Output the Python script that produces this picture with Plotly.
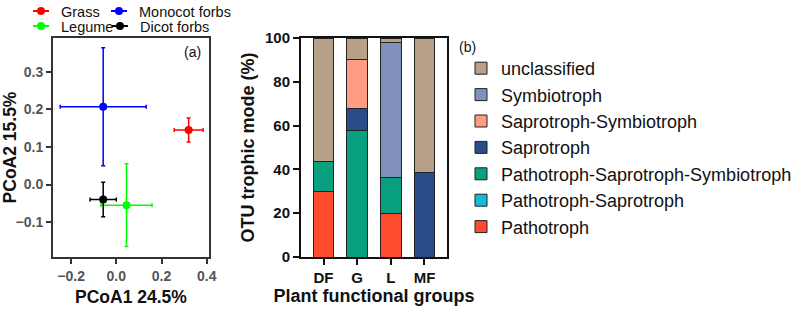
import plotly.graph_objects as go

W, H = 799, 312

# ---- Panel (a) data: PCoA centroids with error bars ----
groups = ["Grass", "Monocot forbs", "Legume", "Dicot forbs"]
group_colors = ["#ff0000", "#0000ff", "#00ff00", "#000000"]
pcoa1 = [0.32, -0.058, 0.045, -0.058]
pcoa2 = [0.145, 0.207, -0.055, -0.04]
pcoa1_err = [0.064, 0.19, 0.113, 0.058]
pcoa2_err = [0.032, 0.157, 0.11, 0.046]

# ---- Panel (b) data: stacked trophic modes ----
categories = ["DF", "G", "L", "MF"]
modes = ["Pathotroph", "Pathotroph-Saprotroph", "Pathotroph-Saprotroph-Symbiotroph",
         "Saprotroph", "Saprotroph-Symbiotroph", "Symbiotroph", "unclassified"]
mode_colors = ["#ff4b2e", "#12bcd8", "#09a080", "#2a4d8a", "#ff9d84", "#8191bd", "#b8a089"]
pathotroph = [30.1, 0.0, 20.0, 0.0]
patho_sapro = [0.0, 0.0, 0.0, 0.0]
patho_sapro_symbio = [13.3, 57.6, 16.4, 0.0]
saprotroph = [0.0, 10.0, 0.0, 38.7]
sapro_symbio = [0.0, 22.8, 0.0, 0.0]
symbiotroph = [0.0, 0.0, 61.6, 0.0]
unclassified = [56.6, 9.6, 2.0, 61.3]
mode_values = [pathotroph, patho_sapro, patho_sapro_symbio, saprotroph,
               sapro_symbio, symbiotroph, unclassified]

def px(v):
    return v / W

def py(v):
    return 1 - v / H

fig = go.Figure()

legend_ids = ["legend", "legend3", "legend4", "legend5"]
for i, g in enumerate(groups):
    fig.add_trace(go.Scatter(
        x=[pcoa1[i]], y=[pcoa2[i]], mode="lines+markers", name=g,
        marker=dict(color=group_colors[i], size=8),
        # short dashed segment so the legend symbol is a compact line-marker-line
        line=dict(color=group_colors[i], width=2, dash="0px,7px,16px,100px"),
        error_x=dict(type="data", array=[pcoa1_err[i]], color=group_colors[i], thickness=1.5, width=2),
        error_y=dict(type="data", array=[pcoa2_err[i]], color=group_colors[i], thickness=1.5, width=2),
        xaxis="x", yaxis="y", showlegend=True,
        legend=legend_ids[i],
    ))

for name, col, vals in zip(modes, mode_colors, mode_values):
    fig.add_trace(go.Bar(
        x=categories, y=vals, name=name, marker=dict(color=col, line=dict(color="#222", width=1)),
        xaxis="x2", yaxis="y2", width=0.62, legend="legend2", showlegend=True,
    ))

ydom = [py(257), py(38)]
tickfont_a = dict(family="Arial", size=14, color="#555555", weight="bold")
tickfont_b = dict(family="Arial", size=15, color="#111111", weight="bold")
titlefont_a = dict(family="Arial", size=17.5, color="#111111", weight="bold")
titlefont_b = dict(family="Arial", size=18, color="#111111", weight="bold")

def small_legend(xpix, ypix):
    return dict(orientation="h", x=px(xpix), y=py(ypix), xanchor="left", yanchor="top",
                font=dict(family="Arial", size=14.5, color="#111"),
                bgcolor="rgba(0,0,0,0)")

fig.update_layout(
    width=W, height=H, margin=dict(l=0, r=0, t=0, b=0, autoexpand=False),
    paper_bgcolor="white", plot_bgcolor="white",
    barmode="stack", showlegend=True,
    font=dict(family="Arial"),
    xaxis=dict(domain=[px(53), px(209)], range=[-0.28, 0.41], tickvals=[-0.2, 0, 0.2, 0.4],
               tickformat=".1f", showline=True, linecolor="#333", linewidth=2, mirror=True,
               ticks="outside", ticklen=5, tickwidth=2, tickcolor="#333", showgrid=False, zeroline=False,
               automargin=False,
               tickfont=tickfont_a, title=dict(text="PCoA1 24.5%", font=titlefont_a, standoff=8)),
    yaxis=dict(domain=ydom, range=[-0.193, 0.39], tickvals=[-0.1, 0, 0.1, 0.2, 0.3],
               tickformat=".1f", showline=True, linecolor="#333", linewidth=2, mirror=True,
               ticks="outside", ticklen=5, tickwidth=2, tickcolor="#333", showgrid=False, zeroline=False,
               automargin=False,
               tickfont=tickfont_a, title=dict(text="PCoA2 15.5%", font=titlefont_a, standoff=4)),
    xaxis2=dict(domain=[px(301), px(447)], range=[-0.67, 3.67], anchor="y2",
                showline=True, linecolor="#111", linewidth=2, mirror=True,
                ticks="outside", ticklen=6, tickwidth=2, tickcolor="#111", showgrid=False,
                automargin=False,
                tickfont=tickfont_b, title=dict(text="Plant functional groups", font=titlefont_b, standoff=4)),
    yaxis2=dict(domain=ydom, range=[0, 100], anchor="x2", tickvals=[0, 20, 40, 60, 80, 100],
                showline=True, linecolor="#111", linewidth=2, mirror=True,
                ticks="outside", ticklen=6, tickwidth=2, tickcolor="#111", showgrid=False, zeroline=False,
                automargin=False,
                tickfont=tickfont_b, title=dict(text="OTU trophic mode (%)", font=titlefont_b, standoff=6)),
    legend=small_legend(21, -5),
    legend3=small_legend(99, -5),
    legend4=small_legend(21, 10),
    legend5=small_legend(100, 10),
    legend2=dict(orientation="v", x=px(461), y=py(50), xanchor="left", yanchor="top",
                 traceorder="reversed", font=dict(family="Arial", size=18, color="#111"),
                 bgcolor="rgba(0,0,0,0)"),
    annotations=[
        dict(text="(a)", x=px(203), y=py(52), xref="paper", yref="paper", xanchor="right",
             yanchor="middle", showarrow=False, font=dict(family="Arial", size=14, color="#111")),
        dict(text="(b)", x=px(457), y=py(47), xref="paper", yref="paper", xanchor="left",
             yanchor="middle", showarrow=False, font=dict(family="Arial", size=14, color="#111")),
    ],
)

fig.write_html("out.html")
